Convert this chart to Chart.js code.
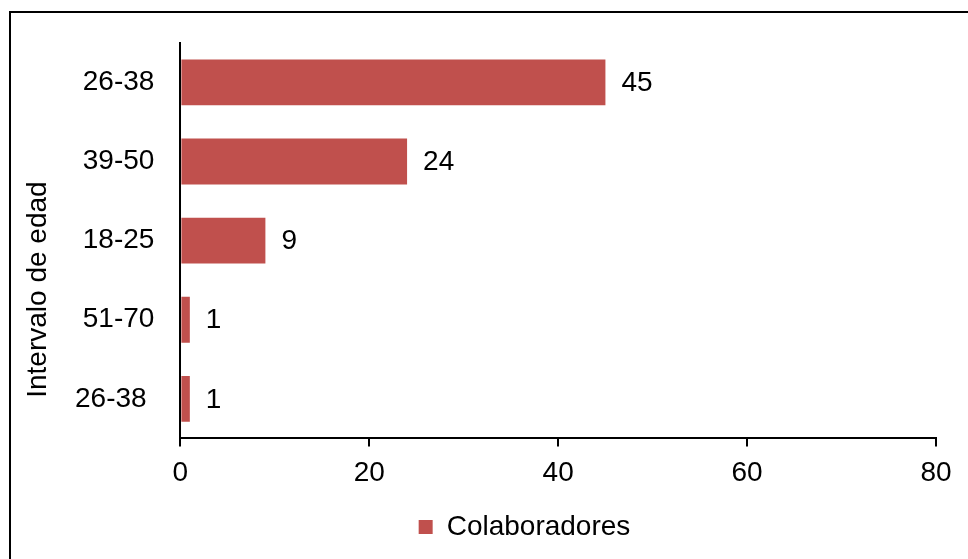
<!DOCTYPE html>
<html>
<head>
<meta charset="utf-8">
<script src="https://cdn.jsdelivr.net/npm/chart.js@4/dist/chart.umd.min.js"></script>
<style>
  html, body { margin: 0; padding: 0; background: #fff; }
  #wrap { position: relative; width: 968px; height: 559px; }
  #frame {
    position: absolute; left: 9px; top: 11px; width: 1000px; height: 600px;
    border-left: 2px solid #000; border-top: 2px solid #000; box-sizing: border-box;
  }
</style>
</head>
<body>
<div id="wrap">
  <canvas id="ageChart" width="968" height="559"></canvas>
  <div id="frame"></div>
</div>
<script>
const ageLabels = ["26-38", "39-50", "18-25", "51-70", "26-38 "];
const colaboradores = [45, 24, 9, 1, 1];
const xTicks = [0, 20, 40, 60, 80];

const FONT = "'Liberation Sans', Arial, sans-serif";
Chart.defaults.font.family = FONT;
Chart.defaults.font.size = 28;
Chart.defaults.color = "#000";

// values written right after each bar
const barValues = {
  id: "barValues",
  afterDatasetsDraw(chart) {
    const ctx = chart.ctx;
    ctx.save();
    ctx.fillStyle = "#000";
    ctx.font = "28px " + FONT;
    ctx.textAlign = "left";
    ctx.textBaseline = "middle";
    chart.getDatasetMeta(0).data.forEach((bar, i) => {
      ctx.fillText(String(colaboradores[i]), bar.x + 16, bar.y + 1);
    });
    ctx.restore();
  }
};

// y axis title (sits a bit low, as in the original) and legend nudge
const yTitle = {
  id: "yTitle",
  afterLayout(chart) {
    chart.legend.left += 32;
    chart.legend.right += 32;
  },
  afterDraw(chart) {
    const ctx = chart.ctx;
    const area = chart.chartArea;
    ctx.save();
    ctx.translate(38, (area.top + area.bottom) / 2 + 49);
    ctx.rotate(-Math.PI / 2);
    ctx.fillStyle = "#000";
    ctx.font = "28px " + FONT;
    ctx.textAlign = "center";
    ctx.textBaseline = "middle";
    ctx.fillText("Intervalo de edad", 0, 0);
    ctx.restore();
  }
};

new Chart(document.getElementById("ageChart").getContext("2d"), {
  type: "bar",
  data: {
    labels: ageLabels,
    datasets: [{
      label: "Colaboradores",
      data: colaboradores,
      backgroundColor: "#C0504D",
      borderWidth: 0,
      categoryPercentage: 1,
      barPercentage: 0.58
    }]
  },
  options: {
    indexAxis: "y",
    responsive: false,
    animation: false,
    layout: { padding: { left: 49, right: 32, top: 41, bottom: 8 } },
    scales: {
      x: {
        min: 0,
        max: 80,
        afterBuildTicks: (scale) => { scale.ticks = xTicks.map(v => ({ value: v })); },
        afterFit: (scale) => { scale.height += 3; },
        grid: { drawOnChartArea: false, drawTicks: true, tickLength: 8, color: "#000", lineWidth: 2 },
        border: { display: true, color: "#000", width: 2 },
        ticks: { padding: 10, color: "#000" }
      },
      y: {
        grid: { drawOnChartArea: false, drawTicks: false },
        border: { display: true, color: "#000", width: 2 },
        ticks: { padding: 26, color: "#000" }
      }
    },
    plugins: {
      legend: {
        position: "bottom",
        labels: { boxWidth: 14, boxHeight: 14, color: "#000", padding: 10 }
      },
      tooltip: { enabled: false }
    }
  },
  plugins: [barValues, yTitle]
});
</script>
</body>
</html>
